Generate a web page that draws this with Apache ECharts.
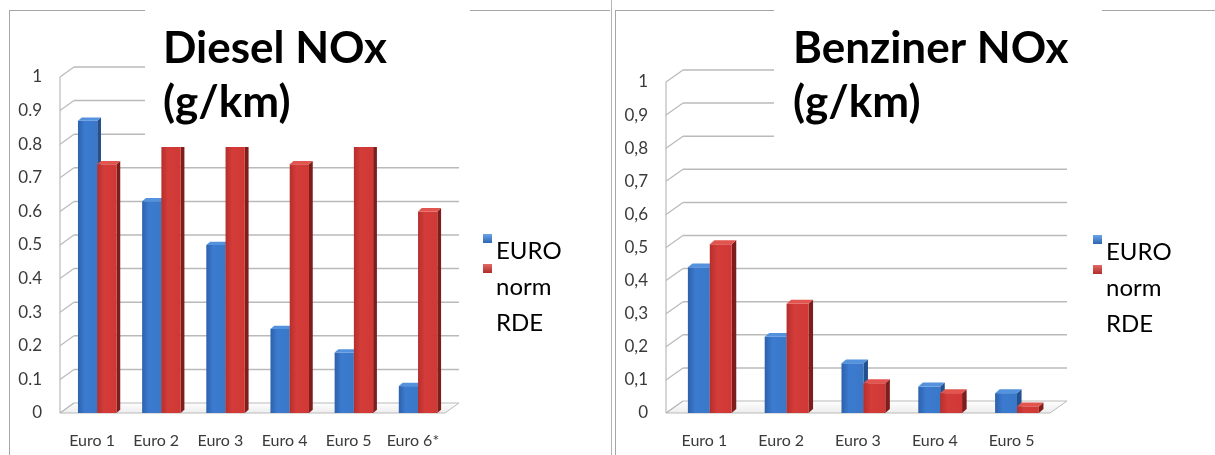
<!DOCTYPE html>
<html>
<head>
<meta charset="utf-8">
<script src="https://cdn.jsdelivr.net/npm/echarts@6/dist/echarts.min.js"></script>
<style>
  html, body { margin: 0; padding: 0; background: #ffffff; }
  #chart { width: 1215px; height: 455px; }
</style>
</head>
<body>
<div id="chart"></div>
<script>
// NOx emissions (g/km): type-approval limit vs. real driving (RDE)
const dieselCategories = ['Euro 1', 'Euro 2', 'Euro 3', 'Euro 4', 'Euro 5', 'Euro 6*'];
const dieselEuroNorm   = [0.87, 0.63, 0.50, 0.25, 0.18, 0.08];
const dieselRDE        = [0.74, 0.85, 0.85, 0.74, 0.90, 0.60];

const petrolCategories = ['Euro 1', 'Euro 2', 'Euro 3', 'Euro 4', 'Euro 5'];
const petrolEuroNorm   = [0.44, 0.23, 0.15, 0.08, 0.06];
const petrolRDE        = [0.51, 0.33, 0.09, 0.06, 0.02];

const dieselYLabels = ['0', '0.1', '0.2', '0.3', '0.4', '0.5', '0.6', '0.7', '0.8', '0.9', '1'];
const petrolYLabels = ['0', '0,1', '0,2', '0,3', '0,4', '0,5', '0,6', '0,7', '0,8', '0,9', '1'];

const seriesNames = ['EURO norm', 'RDE'];
const dieselTitle = 'Diesel NOx\n(g/km)';
const petrolTitle = 'Benziner NOx\n(g/km)';

const FONT = 'Lato, "Open Sans", sans-serif';
const GRID_LINE = '#bababa';

// Look of each panel: front plane of the plot, depth offset of the back wall
const panels = [
  { grid: { left: 60,  top: 77, width: 385, height: 336 }, depth: [14, -10],
    barFrac: 0.30, shift: 0.08, cats: dieselCategories, a: dieselEuroNorm, b: dieselRDE,
    labels: dieselYLabels },
  { grid: { left: 666, top: 82, width: 384, height: 331 }, depth: [17, -12],
    barFrac: 0.285, shift: 0.07, cats: petrolCategories, a: petrolEuroNorm, b: petrolRDE,
    labels: petrolYLabels }
];

const palette = {
  blue: {
    front: new echarts.graphic.LinearGradient(0, 0, 1, 0, [
      { offset: 0, color: '#2d61aa' }, { offset: 0.35, color: '#3b7bd0' }, { offset: 1, color: '#3a77c7' }]),
    side: '#23508f', top: '#5592de'
  },
  red: {
    front: new echarts.graphic.LinearGradient(0, 0, 1, 0, [
      { offset: 0, color: '#b52f2d' }, { offset: 0.35, color: '#d43c39' }, { offset: 1, color: '#cf3835' }]),
    side: '#7e1d1c', top: '#e2554f'
  }
};

// Walls and floor of the 3D frame, drawn from the axis scale
function frameRenderer(panel) {
  return function (params, api) {
    const cs = params.coordSys;
    const dx = panel.depth[0], dy = panel.depth[1];
    const x0 = cs.x, x1 = cs.x + cs.width;
    const children = [];
    const y0 = api.coord([0, 0])[1];
    // floor
    children.push({
      type: 'polygon',
      shape: { points: [[x0, y0], [x1, y0], [x1 + dx, y0 + dy], [x0 + dx, y0 + dy]] },
      style: {
        fill: new echarts.graphic.LinearGradient(0, 0, 0, 1, [
          { offset: 0, color: '#ffffff' }, { offset: 1, color: '#ececec' }]),
        stroke: GRID_LINE, lineWidth: 1
      }
    });
    // left wall front edge
    children.push({
      type: 'line',
      shape: { x1: x0, y1: y0, x2: x0, y2: api.coord([0, 1])[1] },
      style: { stroke: GRID_LINE, lineWidth: 1.2 }
    });
    for (let i = 0; i <= 10; i++) {
      const y = api.coord([0, i / 10])[1];
      children.push({
        type: 'line',
        shape: { x1: x0, y1: y, x2: x0 + dx, y2: y + dy },
        style: { stroke: GRID_LINE, lineWidth: 1.2 }
      });
      if (i > 0) {
        children.push({
          type: 'line',
          shape: { x1: x0 + dx, y1: y + dy, x2: x1 + dx, y2: y + dy },
          style: { stroke: GRID_LINE, lineWidth: 1.5 }
        });
      }
    }
    return { type: 'group', children: children, silent: true };
  };
}

// One 3D column: front face, right side face and top cap
function barRenderer(panel, colors, slot) {
  return function (params, api) {
    const idx = api.value(0), val = api.value(1);
    const top = api.coord([idx, val]);
    const base = api.coord([idx, 0]);
    const band = api.size([1, 0])[0];
    const w = band * panel.barFrac;
    const xl = top[0] + band * panel.shift + (slot - 1) * w;
    const xr = xl + w;
    const yt = top[1], yb = base[1];
    const sdx = panel.depth[0] * 0.27, sdy = panel.depth[1] * 0.33;
    return {
      type: 'group',
      children: [
        { type: 'polygon',
          shape: { points: [[xr, yt], [xr + sdx, yt + sdy], [xr + sdx, yb + sdy], [xr, yb]] },
          style: { fill: colors.side } },
        { type: 'rect', shape: { x: xl, y: yt, width: w, height: yb - yt },
          style: { fill: colors.front } },
        { type: 'polygon',
          shape: { points: [[xl, yt], [xl + sdx, yt + sdy], [xr + sdx, yt + sdy], [xr, yt]] },
          style: { fill: colors.top } }
      ]
    };
  };
}

const grids = [], xAxes = [], yAxes = [], series = [];
panels.forEach(function (p, k) {
  grids.push(p.grid);
  xAxes.push({
    type: 'category', gridIndex: k, data: p.cats,
    axisLine: { show: false }, axisTick: { show: false }, splitLine: { show: false },
    axisLabel: { interval: 0, hideOverlap: false, color: '#3a3a3a', fontFamily: FONT, fontSize: 16, margin: 20 }
  });
  yAxes.push({
    type: 'value', gridIndex: k, min: 0, max: 1, interval: 0.1,
    axisLine: { show: false }, axisTick: { show: false }, splitLine: { show: false },
    axisLabel: {
      color: '#3a3a3a', fontFamily: FONT, fontSize: 17, margin: 18,
      padding: [5, 0, 0, 0],
      formatter: function (v) { return p.labels[Math.round(v * 10)]; }
    }
  });
  series.push({
    type: 'custom', xAxisIndex: k, yAxisIndex: k, z: 1,
    renderItem: frameRenderer(p), data: [[0, 0]], silent: true
  });
  series.push({
    type: 'custom', name: seriesNames[0], xAxisIndex: k, yAxisIndex: k, z: 2,
    renderItem: barRenderer(p, palette.blue, 0),
    data: p.a.map(function (v, i) { return [i, v]; })
  });
  series.push({
    type: 'custom', name: seriesNames[1], xAxisIndex: k, yAxisIndex: k, z: 3,
    renderItem: barRenderer(p, palette.red, 1),
    data: p.b.map(function (v, i) { return [i, v]; })
  });
});

function legendMarker(x, y, c1, c2) {
  return {
    type: 'rect', shape: { x: x, y: y, width: 9, height: 9 },
    style: { fill: new echarts.graphic.LinearGradient(0, 0, 0, 1, [
      { offset: 0, color: c1 }, { offset: 1, color: c2 }]) },
    z: 20
  };
}
function legendBlock(x, y) {
  return [
    legendMarker(x, y, '#6aa5ea', '#2e65b0'),
    legendMarker(x, y + 30, '#e26a66', '#b02c2a'),
    { type: 'text', left: x + 13, top: y - 1, z: 20,
      style: { text: 'EURO\nnorm\nRDE', font: '24px ' + FONT, fill: '#000', lineHeight: 36 } }
  ];
}
function panelLine(x1, y1, x2, y2, c) {
  return { type: 'line', shape: { x1: x1, y1: y1, x2: x2, y2: y2 },
    style: { stroke: c || '#a6a6a6', lineWidth: 1 }, z: 5 };
}

const graphics = [
  panelLine(9.5, 10, 9.5, 455), panelLine(9, 10.5, 610, 10.5),
  panelLine(611.5, 0, 611.5, 455, '#b5b5b5'), panelLine(615.5, 10, 615.5, 455),
  panelLine(615, 10.5, 1215, 10.5),
  // title boxes
  { type: 'rect', shape: { x: 145, y: 0, width: 325, height: 147 }, style: { fill: '#fff' }, z: 30 },
  { type: 'text', left: 163, top: 22, z: 31,
    style: { text: dieselTitle, font: 'bold 44px ' + FONT, fill: '#000', lineHeight: 54 } },
  { type: 'rect', shape: { x: 774, y: 0, width: 328, height: 140 }, style: { fill: '#fff' }, z: 30 },
  { type: 'text', left: 793, top: 22, z: 31,
    style: { text: petrolTitle, font: 'bold 44px ' + FONT, fill: '#000', lineHeight: 54 } }
].concat(legendBlock(483, 234)).concat(legendBlock(1093, 235));

const chart = echarts.init(document.getElementById('chart'), null, { renderer: 'canvas' });
chart.setOption({
  animation: false,
  backgroundColor: '#ffffff',
  grid: grids,
  xAxis: xAxes,
  yAxis: yAxes,
  series: series,
  graphic: graphics
});
</script>
</body>
</html>
